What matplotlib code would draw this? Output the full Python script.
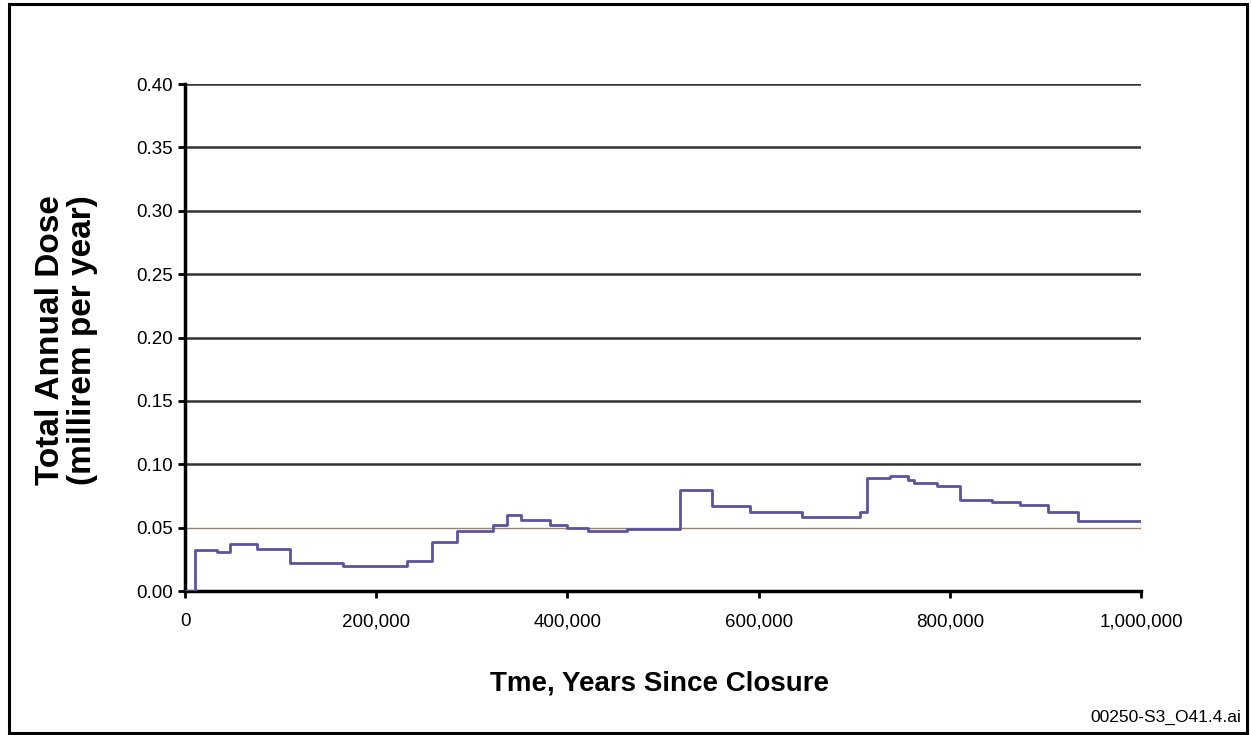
import matplotlib
matplotlib.use("Agg")
import matplotlib.pyplot as plt
from matplotlib.patches import Rectangle
from matplotlib.ticker import FuncFormatter

plt.rcParams['font.family'] = ['Liberation Sans', 'DejaVu Sans']

# Step changes in total annual dose: year the level starts, dose (mrem/yr)
years = [0, 10000, 33000, 47000, 75000, 110000, 165000, 232000, 258000,
         284000, 322000, 337000, 351000, 382000, 400000, 421000, 462000,
         518000, 551000, 591000, 645000, 706000, 713000, 737000, 756000,
         763000, 787000, 811000, 844000, 873000, 903000, 934000, 1000000]
dose = [0.0, 0.032, 0.031, 0.037, 0.033, 0.022, 0.020, 0.024, 0.039,
        0.047, 0.052, 0.060, 0.056, 0.052, 0.050, 0.047, 0.049,
        0.080, 0.067, 0.062, 0.058, 0.062, 0.089, 0.091, 0.0875,
        0.0855, 0.083, 0.072, 0.070, 0.068, 0.062, 0.055, 0.055]

y_ticks = [0.0, 0.05, 0.10, 0.15, 0.20, 0.25, 0.30, 0.35, 0.40]
x_ticks = [0, 200000, 400000, 600000, 800000, 1000000]

fig = plt.figure(figsize=(12.51, 7.35), dpi=100)
ax = fig.add_axes([0.1479, 0.1959, 0.7642, 0.6898])

# horizontal grid lines; the 0.05 line is drawn lighter
for y in y_ticks[1:]:
    if y == 0.05:
        ax.axhline(y, color='#9c8070', lw=1.0, zorder=1)
    else:
        ax.axhline(y, color='#333333', lw=1.8, zorder=1)

ax.plot(years, dose, drawstyle='steps-post', color='#5c539e', lw=2.0, zorder=3)

ax.set_xlim(0, 1000000)
ax.set_ylim(0, 0.40)
ax.set_yticks(y_ticks)
ax.set_xticks(x_ticks)
ax.yaxis.set_major_formatter(FuncFormatter(lambda v, p: '%.2f' % v))
ax.xaxis.set_major_formatter(FuncFormatter(lambda v, p: '{:,.0f}'.format(v)))

for s in ['top', 'right']:
    ax.spines[s].set_visible(False)
for s in ['left', 'bottom']:
    ax.spines[s].set_linewidth(2.5)
    ax.spines[s].set_color('black')

ax.tick_params(axis='both', direction='out', length=5, width=2,
               labelsize=13.5, colors='black')
ax.tick_params(axis='x', pad=11)
ax.tick_params(axis='y', pad=4)

fig.text(0.0530, 0.537, 'Total Annual Dose\n(millirem per year)', fontsize=24,
         fontweight='bold', rotation=90, ha='center', va='center',
         multialignment='center', linespacing=1.05)
fig.text(0.527, 0.0707, 'Tme, Years Since Closure', fontsize=20,
         fontweight='bold', ha='center', va='center')

fig.text(0.9925, 0.0245, '00250-S3_O41.4.ai', ha='right', va='center',
         fontsize=12.5)

# outer frame
fig.patches.append(Rectangle((0.007, 0.003), 0.990, 0.992,
                             transform=fig.transFigure, fill=False,
                             edgecolor='black', lw=2.2))

fig.savefig('out.png', dpi=100)
